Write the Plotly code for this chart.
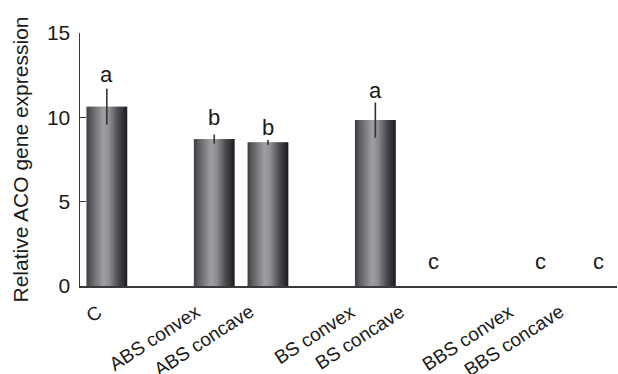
import plotly.graph_objects as go
import numpy as np

# ---- data ----
groups = [["C"], ["ABS convex", "ABS concave"], ["BS convex", "BS concave"], ["BBS convex", "BBS concave"]]
categories = [c for g in groups for c in g]
values = [10.63, 8.71, 8.52, 9.84, 0.0, 0.0, 0.0]
errors = [1.06, 0.27, 0.14, 1.04, 0.0, 0.0, 0.0]
letters = ["a", "b", "b", "a", "c", "c", "c"]
letter_base = [12.02, 9.48, 8.91, 11.07, 0.95, 0.95, 0.95]
y_ticks = [0, 5, 10, 15]

# x slots: one empty slot between groups
xpos = []
slot = 0
for g in groups:
    for c in g:
        xpos.append(slot)
        slot += 1
    slot += 1

FONT = "Liberation Sans, Arial, Helvetica, sans-serif"
bar_w = 0.76
N = 28
stops_t = [0.0, 0.12, 0.42, 0.55, 0.78, 1.0]
stops_v = [62, 95, 160, 145, 75, 28]

fig = go.Figure()
s = bar_w / N
for k in range(N):
    t = (k + 0.5) / N
    v = np.interp(t, stops_t, stops_v)
    col = "rgb(%d,%d,%d)" % (v, v, min(255, v + 4))
    w = s * 1.6 if k < N - 1 else s
    fig.add_trace(go.Bar(
        x=xpos, y=values, width=[w] * len(xpos), offset=[-bar_w / 2 + k * s] * len(xpos),
        marker=dict(color=col, line=dict(width=0)), showlegend=False, hoverinfo="skip"))

fig.add_trace(go.Scatter(
    x=xpos, y=values, mode="markers", marker=dict(size=1, color="rgba(0,0,0,0)"),
    error_y=dict(type="data", array=errors, visible=True, width=0, thickness=1.6, color="#333333"),
    showlegend=False, hoverinfo="skip"))

# significance letters
letter_dx = [0, 0, 0, 0, 4, 4, 8]
for i, (x, L, yb) in enumerate(zip(xpos, letters, letter_base)):
    fig.add_annotation(x=x, y=yb, text=L, showarrow=False, yanchor="bottom", yshift=-6,
                       xshift=letter_dx[i], font=dict(family=FONT, size=22, color="#1a1a1a"))

# rotated category labels (placed like the original, slightly left of the bar centres)
label_dx = [2, -7, -8, -14, -19, -16, -20]
for i, (x, name) in enumerate(zip(xpos, categories)):
    fig.add_annotation(x=x, y=0, xref="x", yref="paper", text=name, showarrow=False,
                       textangle=-33, xanchor="right", yanchor="top", xshift=label_dx[i],
                       yshift=-12, font=dict(family=FONT, size=19, color="#1a1a1a"))

fig.update_layout(
    width=618, height=374, margin=dict(l=80, r=1, t=33, b=88, autoexpand=False),
    paper_bgcolor="white", plot_bgcolor="white", barmode="overlay",
    font=dict(family=FONT, size=19, color="#1a1a1a"),
)
fig.update_xaxes(range=[-0.5, 9.5], tickvals=xpos, showticklabels=False,
                 showline=True, linecolor="#3a3a3a", linewidth=1.5, ticks="", showgrid=False,
                 zeroline=False, automargin=False)
fig.update_yaxes(range=[0, 15], tickvals=y_ticks, showline=True, linecolor="#3a3a3a",
                 linewidth=1.5, ticks="inside", ticklen=6, tickwidth=1.5, tickcolor="#3a3a3a",
                 showgrid=False, zeroline=False, ticklabelstandoff=4, tickfont=dict(size=21),
                 automargin=False,
                 title=dict(text="Relative ACO gene expression", font=dict(size=21), standoff=12))

fig.write_html("out.html", config={"displayModeBar": False, "staticPlot": True},
               post_script="document.body.style.margin='0px';")
